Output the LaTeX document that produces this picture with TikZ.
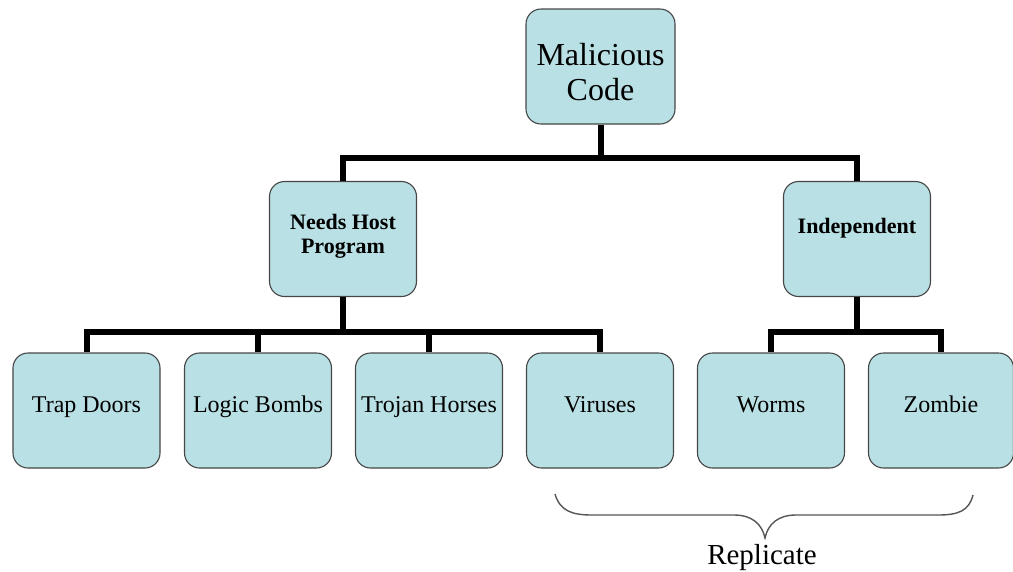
\documentclass[tikz,border=0pt]{standalone}
\usepackage{fontspec}
\setmainfont{Liberation Serif}
\definecolor{boxfill}{RGB}{185,224,228}
\definecolor{boxline}{RGB}{70,70,70}
\definecolor{bracegray}{RGB}{85,85,85}
\begin{document}
\begin{tikzpicture}[x=1pt,y=-1pt,
  box/.style={draw=boxline, line width=1.1pt, fill=boxfill, rounded corners=15pt,
    minimum width=147pt, minimum height=115pt, inner sep=0pt, align=center},
  rootbox/.style={box, minimum width=149pt, font=\fontsize{32}{35}\selectfont},
  groupbox/.style={box, font=\fontsize{22}{24}\selectfont\bfseries},
  leafbox/.style={box, font=\fontsize{24}{28}\selectfont, text height=17pt, text depth=13pt},
  link/.style={line width=6pt, draw=black},
  bracestroke/.style={line width=1.4pt, draw=bracegray}]
\useasboundingbox (0,0) rectangle (1013,571);

% tree nodes (struts move the two-line texts within their boxes)
\node[rootbox] (mal) at (600.5,66.5) {\rule{0pt}{34pt}Malicious\\Code};
\node[groupbox] (host) at (343,239) {Needs Host\\Program\rule[-11pt]{0pt}{0pt}};
\node[groupbox, text height=16pt, text depth=28pt] (ind) at (857,239) {Independent};

\node[leafbox] (td)  at (86.5,410.5) {Trap Doors};
\node[leafbox] (lb)  at (258,410.5)  {Logic Bombs};
\node[leafbox] (th)  at (429,410.5)  {Trojan Horses};
\node[leafbox] (vir) at (600,410.5)  {Viruses};
\node[leafbox] (wo)  at (771,410.5)  {Worms};
\node[leafbox, minimum width=145pt] (zo) at (941,410.5) {Zombie};

% junction points of the bus lines
\coordinate (j1) at (600,158);
\coordinate (j2) at (343,332);
\coordinate (j3) at (857,332);

% first level
\draw[link] (mal.south) -- (mal.south |- j1);
\draw[link] (host.north) |- (j1) -| (ind.north);

% second level, left branch
\draw[link] (host.south) -- (host.south |- j2);
\draw[link] (td.north) |- (j2) -| (vir.north);
\draw[link] (lb.north) -- (lb.north |- j2);
\draw[link] (th.north) -- (th.north |- j2);

% second level, right branch
\draw[link] (ind.south) -- (ind.south |- j3);
\draw[link] (wo.north) |- (j3) -| (zo.north);

% brace under the self-replicating kinds
\coordinate (bl) at (555,494);
\coordinate (br) at (973,495);
\coordinate (btip) at (765,538);
\draw[bracestroke] (bl) .. controls (560,511) and (572,515) .. (592,515)
  -- (734,515) .. controls (752,515) and (762,524) .. (btip)
  .. controls (768,524) and (778,515) .. (796,515)
  -- (938,515) .. controls (958,515) and (969,511) .. (br);
\node[anchor=base, font=\fontsize{29}{32}\selectfont, inner sep=0pt] (rep) at (762,564) {Replicate};
\end{tikzpicture}
\end{document}
